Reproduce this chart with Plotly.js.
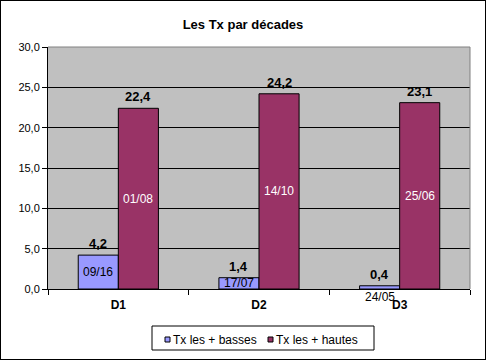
<!DOCTYPE html>
<html><head><meta charset="utf-8">
<script src="https://cdn.plot.ly/plotly-3.0.1.min.js"></script>
<style>html,body{margin:0;padding:0;background:#fff}#c{width:484px;height:358px;border:1px solid #000}</style>
</head><body><div id="c"></div>
<script>
const categories = ["D1", "D2", "D3"];
const seriesNames = ["Tx les + basses", "Tx les + hautes"];
const lowValues = [4.2, 1.4, 0.4];
const highValues = [22.4, 24.2, 23.1];
const lowDates = ["09/16", "17/07", "24/05"];
const highDates = ["01/08", "14/10", "25/06"];
const yTicks = [0, 5, 10, 15, 20, 25, 30];

const FONT = "'Liberation Sans', Arial, sans-serif";
const colors = ['#9999FF', '#993366'];
const fmt = v => v.toFixed(1).replace('.', ',');
const bargap = 0.43;
const half = (1 - bargap) / 4;
const Y_MAX = 30, PLOT_H = 242;

// plot area in image pixels: x 48..470, y 47..289
const px = X => (X - 48) / 422;
const py = Y => (289 - Y) / PLOT_H;

const traces = [
  {type:'bar', name:seriesNames[0], x:categories, y:lowValues,
   marker:{color:colors[0], line:{color:'#000', width:1}}, hoverinfo:'none'},
  {type:'bar', name:seriesNames[1], x:categories, y:highValues,
   marker:{color:colors[1], line:{color:'#000', width:1}}, hoverinfo:'none'}
];

const annotations = [];
const series = [[lowValues, lowDates, -half, '#000'], [highValues, highDates, half, '#fff']];
series.forEach(([vals, dates, off, col]) => {
  vals.forEach((v, i) => {
    annotations.push({x:i + off, y:v, xref:'x', yref:'y', text:'<b>' + fmt(v) + '</b>',
      showarrow:false, yanchor:'bottom', yshift:2, font:{family:FONT, size:13, color:'#000'}});
    const barPx = v / Y_MAX * PLOT_H;
    const fits = barPx >= 8;
    annotations.push({x:i + off, y:fits ? v / 2 : 0, xref:'x', yref:'y', text:dates[i],
      showarrow:false, yanchor:fits ? 'middle' : 'top', yshift:fits ? 0 : 1,
      font:{family:FONT, size:12, color:col}});
  });
});

// compact legend (Excel style)
const shapes = [
  {type:'line', xref:'paper', yref:'paper', x0:0, x1:1, y0:1, y1:1, line:{color:'#808080', width:1}},
  {type:'line', xref:'paper', yref:'paper', x0:1, x1:1, y0:0, y1:1, line:{color:'#808080', width:1}},
  {type:'rect', xref:'paper', yref:'paper', x0:px(152), x1:px(374), y0:py(350), y1:py(326),
   line:{color:'#000', width:1}, fillcolor:'#fff'}
];
const legendX = [165, 268];
seriesNames.forEach((name, k) => {
  shapes.push({type:'rect', xref:'paper', yref:'paper', x0:px(legendX[k]), x1:px(legendX[k] + 5),
    y0:py(342), y1:py(337), line:{color:'#000', width:1}, fillcolor:colors[k]});
  annotations.push({xref:'paper', yref:'paper', x:px(legendX[k] + 6), y:py(339.5), xanchor:'left',
    yanchor:'middle', text:name, showarrow:false, font:{family:FONT, size:12, color:'#000'}});
});

const layout = {
  width:484, height:358,
  margin:{l:47, r:15, t:46, b:70},
  paper_bgcolor:'#fff', plot_bgcolor:'#C0C0C0',
  separators:',.',
  barmode:'group', bargap:bargap, bargroupgap:0,
  title:{text:'<b>Les Tx par décades</b>', x:0.5, xanchor:'center', y:0.935, yanchor:'middle',
         font:{family:FONT, size:13, color:'#000'}},
  xaxis:{type:'category', tickson:'boundaries', ticks:'outside', ticklen:5, tickcolor:'#000',
         showline:true, linecolor:'#000', linewidth:1, showgrid:false, zeroline:false,
         tickfont:{family:FONT, size:12, color:'#000'}, ticklabelstandoff:5,
         tickvals:categories, ticktext:categories.map(c => '<b>' + c + '</b>')},
  yaxis:{range:[0, Y_MAX], tickvals:yTicks, tickformat:'.1f', ticks:'outside', ticklen:5,
         tickcolor:'#000', showline:true, linecolor:'#000', linewidth:1,
         showgrid:true, gridcolor:'#000', gridwidth:1, zeroline:false,
         tickfont:{family:FONT, size:11, color:'#000'}},
  showlegend:false,
  shapes:shapes,
  annotations:annotations
};

Plotly.newPlot('c', traces, layout, {staticPlot:true, displayModeBar:false});
</script></body></html>
